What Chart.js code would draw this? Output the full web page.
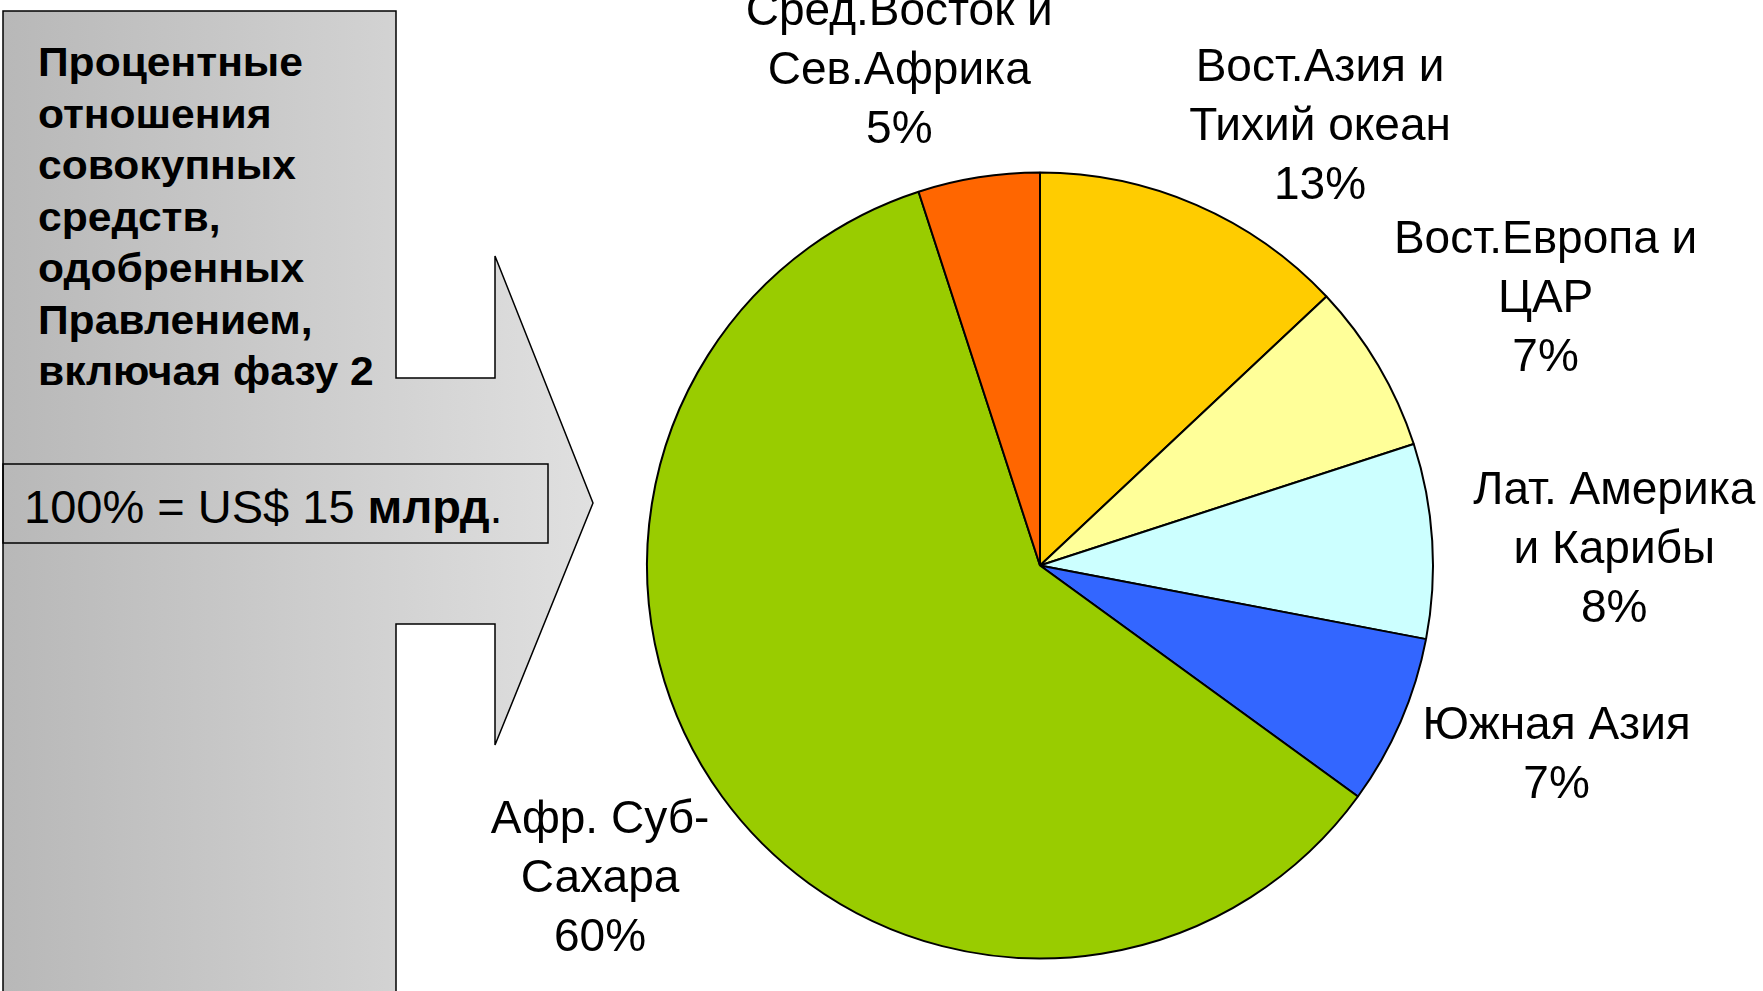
<!DOCTYPE html>
<html lang="ru">
<head>
<meta charset="utf-8">
<title>Процентные отношения совокупных средств</title>
<script src="https://cdn.jsdelivr.net/npm/chart.js@4/dist/chart.umd.min.js"></script>
<style>
  html, body { margin: 0; padding: 0; background: #fff; overflow: hidden; }
  #wrap { position: relative; width: 1763px; height: 991px; }
  #arrow { position: absolute; left: 0; top: 0; }
  #pie { position: absolute; left: 0; top: 0; }
  #title {
    position: absolute; left: 38px; top: 37px;
    font: bold 40px "Liberation Sans", Arial, sans-serif;
    line-height: 51.5px; color: #000;
    transform: scaleX(1.065); transform-origin: 0 0;
  }
  #total {
    position: absolute; left: 24px; top: 484px;
    font: 47px "Liberation Sans", Arial, sans-serif;
    line-height: 46px; color: #000; white-space: nowrap;
  }
</style>
</head>
<body>
<div id="wrap">
  <svg id="arrow" width="1763" height="991">
    <defs>
      <linearGradient id="grey" gradientUnits="userSpaceOnUse" x1="3" y1="0" x2="593" y2="0">
        <stop offset="0" stop-color="#b8b8b8"/>
        <stop offset="1" stop-color="#e0e0e0"/>
      </linearGradient>
    </defs>
    <polygon points="3,11 396,11 396,378 495,378 495,256 593,503 495,745 495,624 396,624 396,1000 3,1000"
             fill="url(#grey)" stroke="#000" stroke-width="1.5"/>
    <rect x="3" y="464" width="545" height="79" fill="none" stroke="#000" stroke-width="1.5"/>
  </svg>
  <div id="title">Процентные<br>отношения<br>совокупных<br>средств,<br>одобренных<br>Правлением,<br>включая фазу 2</div>
  <div id="total">100% = US$ 15 <b>млрд</b>.</div>
  <canvas id="pie" width="1763" height="991"></canvas>
</div>

<script>
// ==================== DATA ====================
const regions = [
  ["Вост.Азия и", "Тихий океан"],
  ["Вост.Европа и", "ЦАР"],
  ["Лат. Америка", "и Карибы"],
  ["Южная Азия"],
  ["Афр. Суб-", "Сахара"],
  ["Сред.Восток и", "Сев.Африка"]
];
const shares = [13, 7, 8, 7, 60, 5];
const sliceColors = ["#FFCC00", "#FFFF99", "#CCFFFF", "#3366FF", "#99CC00", "#FF6600"];

// where each label sits: angle from 12 o'clock (deg) and distance in pie radii
const labelAngle = [32.4, 62.0, 88.2, 109.9, 234.8, 344.2];
const labelDist = [1.33, 1.457, 1.462, 1.398, 1.37, 1.315];

// ==================== LABELS PLUGIN ====================
const sliceLabels = {
  id: "sliceLabels",
  afterDatasetsDraw(chart) {
    const ctx = chart.ctx;
    const arcs = chart.getDatasetMeta(0).data;
    const lineH = 59;
    ctx.save();
    ctx.font = '46px "Liberation Sans", Arial, sans-serif';
    ctx.fillStyle = "#000";
    ctx.textAlign = "center";
    ctx.textBaseline = "middle";
    arcs.forEach((arc, i) => {
      const a = labelAngle[i] * Math.PI / 180;
      const r = arc.outerRadius * labelDist[i];
      const cx = arc.x + Math.sin(a) * r;
      const cy = arc.y - Math.cos(a) * r + 3;
      const lines = regions[i].concat([shares[i] + "%"]);
      lines.forEach((txt, j) => {
        ctx.fillText(txt, cx, cy + (j - (lines.length - 1) / 2) * lineH);
      });
    });
    ctx.restore();
  }
};

// ==================== CHART ====================
new Chart(document.getElementById("pie"), {
  type: "pie",
  data: {
    labels: regions.map(r => r.join(" ")),
    datasets: [{
      data: shares,
      backgroundColor: sliceColors,
      borderColor: "#000",
      borderWidth: 2,
      hoverOffset: 0
    }]
  },
  options: {
    responsive: false,
    animation: false,
    events: [],
    radius: 393,
    layout: { padding: { left: 640, right: 323, top: 165, bottom: 25 } },
    plugins: {
      legend: { display: false },
      tooltip: { enabled: false }
    }
  },
  plugins: [sliceLabels]
});
</script>
</body>
</html>
